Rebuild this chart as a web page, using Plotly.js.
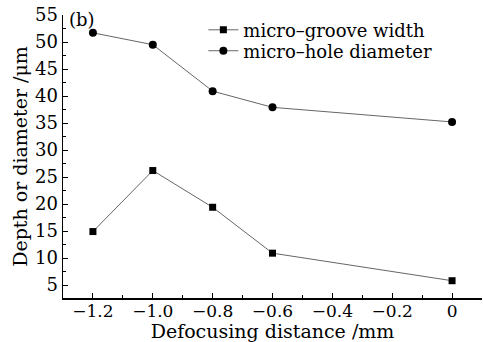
<!DOCTYPE html>
<html><head><meta charset="utf-8">
<script src="https://cdn.plot.ly/plotly-3.0.1.min.js"></script>
<style>body{margin:0;background:#fff}#c{width:483px;height:342px}</style>
</head><body><div id="c"></div>
<script>
const defocus = [-1.2, -1.0, -0.8, -0.6, 0];
const grooveWidth = [14.9, 26.2, 19.4, 10.9, 5.8];
const holeDiameter = [51.7, 49.5, 40.9, 37.9, 35.2];
const seriesNames = ['micro\u2013groove width', 'micro\u2013hole diameter'];
const xTicks = [-1.2, -1.0, -0.8, -0.6, -0.4, -0.2, 0];
const xTickLabels = ['\u22121.2', '\u22121.0', '\u22120.8', '\u22120.6', '\u22120.4', '\u22120.2', '0'];
const yTicks = [5, 10, 15, 20, 25, 30, 35, 40, 45, 50, 55];

const font = 'DejaVu Serif, serif';
const traces = [
  {x: defocus, y: grooveWidth, name: seriesNames[0], mode: 'lines+markers', legend: 'legend',
   line: {color: '#666', width: 1}, marker: {symbol: 'square', color: '#000', size: 7}},
  {x: defocus, y: holeDiameter, name: seriesNames[1], mode: 'lines+markers', legend: 'legend2',
   line: {color: '#666', width: 1}, marker: {symbol: 'circle', color: '#000', size: 8}}
];
const legBase = {x: 0.335, xanchor: 'left', yanchor: 'top', bgcolor: 'rgba(0,0,0,0)',
                 font: {family: font, size: 18}, itemwidth: 30};
const layout = {
  width: 483, height: 342,
  margin: {l: 63, r: 1, t: 15, b: 44},
  paper_bgcolor: '#fff', plot_bgcolor: '#fff',
  font: {family: font, color: '#000', size: 18},
  showlegend: true,
  legend: Object.assign({}, legBase, {y: 1.012}),
  legend2: Object.assign({}, legBase, {y: 0.938}),
  xaxis: {range: [-1.3, 0.1], tickvals: xTicks, ticktext: xTickLabels,
          showline: true, linecolor: '#000', linewidth: 1.5, showgrid: false, zeroline: false,
          ticks: 'inside', ticklen: 5, tickcolor: '#000', ticklabelstandoff: -3,
          minor: {dtick: 0.1, ticks: 'inside', ticklen: 3, tickcolor: '#000'},
          title: {text: 'Defocusing distance /mm', font: {family: font, size: 19}, standoff: 0},
          tickfont: {family: font, size: 17}},
  yaxis: {range: [2.6, 55], tickvals: yTicks,
          showline: true, linecolor: '#000', linewidth: 1.5, showgrid: false, zeroline: false,
          ticks: 'inside', ticklen: 5, tickcolor: '#000',
          minor: {dtick: 2.5, ticks: 'inside', ticklen: 3, tickcolor: '#000'},
          title: {text: 'Depth or diameter /\u03bcm', font: {family: font, size: 19}, standoff: 2},
          tickfont: {family: font, size: 18}},
  annotations: [{text: '(b)', xref: 'paper', yref: 'paper', x: 0.01, y: 1.03,
                 xanchor: 'left', yanchor: 'top', showarrow: false, font: {family: font, size: 18}}]
};
Plotly.newPlot('c', traces, layout, {displayModeBar: false, staticPlot: true});
</script></body></html>
